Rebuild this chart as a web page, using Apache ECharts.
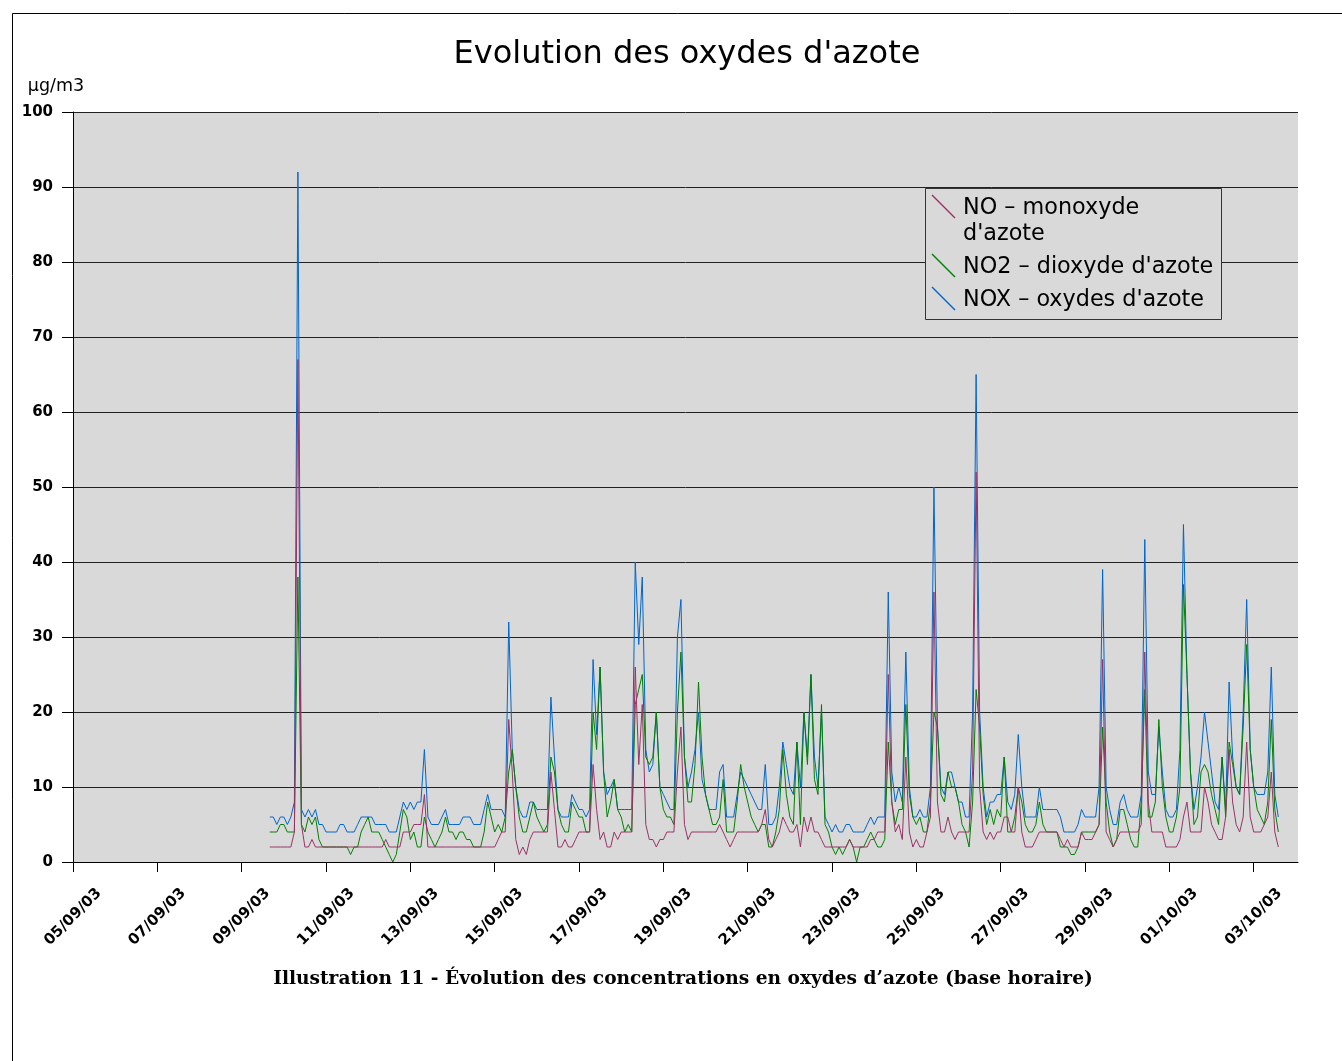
<!DOCTYPE html>
<html><head><meta charset="utf-8">
<script src="https://cdn.jsdelivr.net/npm/echarts@6/dist/echarts.min.js"></script>
<style>html,body{margin:0;padding:0;background:#fff}#c{width:1342px;height:1061px}</style>
</head><body><div id="c"></div>
<script>
// hours counted from 05/09/03 00:00, one value every 2 hours
const startHour = 112;
const stepHours = 2;
const axisMaxHour = 697.2;
const tickStepHours = 48;
const tickLabels = ['05/09/03','07/09/03','09/09/03','11/09/03','13/09/03','15/09/03','17/09/03','19/09/03','21/09/03','23/09/03','25/09/03','27/09/03','29/09/03','01/10/03','03/10/03'];
const seriesNames = ["NO – monoxyde d'azote", "NO2 – dioxyde d'azote", "NOX – oxydes d'azote"];
const seriesColors = ['#993366', '#008000', '#0066cc'];

const noValues = [
2,2,2,2,2,2,2,4,67,5, 2,2,3,2,2,2,2,2,2,2, 2,2,2,2,2,2,2,2,2,2, 2,2,2,3,2,2,2,2,4,4,
4,5,5,5,9,2,2,2,2,2, 2,2,2,2,2,2,2,2,2,2, 2,2,2,2,2,3,4,4,19,12, 3,1,2,1,3,4,4,4,4,4,
12,7,2,2,3,2,2,3,4,4, 4,4,13,7,3,4,2,2,4,3, 4,4,4,4,26,13,21,5,3,3, 2,3,3,4,4,4,12,18,5,3,
4,4,4,4,4,4,4,4,5,4, 3,2,3,4,4,4,4,4,4,4, 5,7,3,2,3,4,6,5,4,4, 5,2,6,4,6,4,4,3,2,2,
2,2,2,2,2,3,2,2,2,2, 2,3,3,4,4,4,25,8,4,5, 3,14,4,2,3,2,2,4,6,36, 8,4,4,6,4,3,4,4,4,4,
12,52,10,4,3,4,3,4,4,6, 6,4,4,10,4,2,2,2,3,4, 4,4,4,4,4,3,2,3,2,2, 2,4,3,3,3,4,5,27,4,3,
2,3,4,4,4,4,4,4,5,28, 8,4,4,4,4,2,2,2,2,3, 6,8,4,4,4,4,10,8,5,4, 3,3,6,15,8,5,4,6,16,6,
4,4,4,5,6,12,4,2];

const no2Values = [
4,4,4,5,5,4,4,4,38,5, 4,6,5,6,3,2,2,2,2,2, 2,2,2,1,2,2,4,5,6,4, 4,4,3,2,1,0,1,4,7,6,
3,4,2,2,6,4,3,2,3,4, 6,4,4,3,4,4,3,3,2,2, 2,4,8,6,4,5,4,6,12,15, 10,6,4,4,6,8,6,5,4,5,
14,12,7,5,4,4,8,7,6,6, 4,4,20,15,26,12,6,8,11,7, 6,4,5,4,21,23,25,14,13,14, 20,10,7,6,6,5,20,28,14,8,
8,13,24,14,9,7,5,5,6,11, 4,4,4,8,13,10,8,6,5,4, 5,5,2,2,4,7,15,9,6,5, 16,5,20,13,25,11,9,21,5,4,
2,1,2,1,2,3,2,0,2,2, 3,4,3,2,2,3,16,8,5,7, 7,21,9,6,5,6,4,4,8,20, 18,9,8,12,10,10,8,5,4,2,
8,23,18,9,5,7,5,7,6,14, 4,4,6,10,8,5,4,4,5,8, 5,4,4,4,4,2,2,2,1,1, 2,4,4,4,4,4,5,18,8,4,
2,3,7,7,5,3,2,2,8,23, 6,6,8,19,10,6,4,4,6,10, 37,25,12,5,6,12,13,12,9,7, 5,14,6,16,13,10,9,18,29,15,
10,7,6,5,8,19,7,4];

const noxValues = [
6,6,5,6,6,5,6,8,92,7, 6,7,6,7,5,5,4,4,4,4, 5,5,4,4,4,5,6,6,6,6, 5,5,5,5,4,4,4,6,8,7,
8,7,8,8,15,6,5,5,5,6, 7,5,5,5,5,6,6,6,5,5, 5,7,9,7,7,7,7,6,32,15, 10,7,6,6,8,8,7,7,7,7,
22,14,7,6,6,6,9,8,7,7, 6,7,27,17,26,12,9,10,11,7, 7,7,7,7,40,29,38,15,12,13, 20,10,9,8,7,7,30,35,14,10,
12,15,20,11,9,7,7,7,12,13, 6,6,6,9,12,11,10,9,8,7, 7,13,5,5,6,10,16,13,10,9, 16,10,20,14,25,14,10,20,6,5,
4,5,4,4,5,5,4,4,4,4, 5,6,5,6,6,6,36,12,8,10, 8,28,10,6,6,7,6,6,10,50, 18,10,9,12,12,10,8,8,6,6,
20,65,20,10,6,8,8,9,9,14, 8,7,9,17,10,6,6,6,6,10, 7,7,7,7,7,6,4,4,4,4, 5,7,6,6,6,6,10,39,10,7,
5,5,8,9,7,6,6,6,9,43, 12,9,9,18,12,7,6,6,7,15, 45,25,12,7,10,14,20,16,12,8, 7,14,7,24,14,10,9,20,35,15,
10,9,9,9,12,26,9,6];

const toPoints = arr => arr.map((v, i) => [startHour + i * stepHours, v]);
const tickValues = tickLabels.map((_, i) => i * tickStepHours);

const chart = echarts.init(document.getElementById('c'), null, {renderer: 'canvas'});
const FONT = '"DejaVu Sans", Verdana, sans-serif';

chart.setOption({
  animation: false,
  backgroundColor: '#ffffff',
  grid: {left: 73, top: 112, right: 44, bottom: 199, show: true, backgroundColor: '#d9d9d9', borderWidth: 0, containLabel: false, outerBoundsMode: 'none'},
  xAxis: {
    type: 'value', min: 0, max: axisMaxHour,
    axisLine: {show: true, lineStyle: {color: '#000', width: 1}},
    axisTick: {show: true, length: 10, customValues: tickValues, lineStyle: {color: '#000'}},
    axisLabel: {
      customValues: tickValues,
      formatter: v => tickLabels[Math.round(v / tickStepHours)] || '',
      rotate: 45, align: 'center', verticalAlign: 'middle', margin: 55,
      fontSize: 15, fontWeight: 'bold', color: '#000', fontFamily: FONT
    },
    splitLine: {show: false}
  },
  yAxis: {
    type: 'value', min: 0, max: 100, interval: 10,
    axisLine: {show: true, lineStyle: {color: '#000', width: 1}},
    axisTick: {show: true, length: 11, lineStyle: {color: '#000'}},
    axisLabel: {fontSize: 15, fontWeight: 'bold', color: '#000', margin: 20, fontFamily: FONT},
    splitLine: {show: true, lineStyle: {color: '#222', width: 1}}
  },
  series: [
    {name: seriesNames[2], type: 'line', data: toPoints(noxValues), showSymbol: false, symbol: 'none', lineStyle: {color: seriesColors[2], width: 1}, itemStyle: {color: seriesColors[2]}},
    {name: seriesNames[1], type: 'line', data: toPoints(no2Values), showSymbol: false, symbol: 'none', lineStyle: {color: seriesColors[1], width: 1}, itemStyle: {color: seriesColors[1]}},
    {name: seriesNames[0], type: 'line', data: toPoints(noValues), showSymbol: false, symbol: 'none', lineStyle: {color: seriesColors[0], width: 1}, itemStyle: {color: seriesColors[0]}}
  ],
  graphic: [
    {type: 'polyline', shape: {points: [[12.5, 1061], [12.5, 13.5], [1342, 13.5]]}, style: {stroke: '#000', lineWidth: 1, fill: null}, silent: true},
    {type: 'text', x: 687, y: 55, style: {text: "Evolution des oxydes d'azote", fontSize: 32, fontFamily: FONT, fill: '#000', align: 'center', verticalAlign: 'middle'}},
    {type: 'text', x: 56, y: 86, style: {text: 'µg/m3', fontSize: 17.5, fontFamily: FONT, fill: '#000', align: 'center', verticalAlign: 'middle'}},
    {type: 'text', x: 683, y: 979, style: {text: 'Illustration 11 - Évolution des concentrations en oxydes d’azote (base horaire)', fontSize: 18.6, fontWeight: 'bold', fontFamily: '"DejaVu Serif", serif', fill: '#000', align: 'center', verticalAlign: 'middle'}},
    {type: 'rect', shape: {x: 925.5, y: 188.5, width: 296, height: 131}, style: {fill: '#d9d9d9', stroke: '#333', lineWidth: 1}, z: 10},
    {type: 'line', shape: {x1: 932, y1: 195, x2: 955, y2: 218}, style: {stroke: seriesColors[0], lineWidth: 1.4}, z: 11},
    {type: 'line', shape: {x1: 932, y1: 254, x2: 955, y2: 277}, style: {stroke: seriesColors[1], lineWidth: 1.4}, z: 11},
    {type: 'line', shape: {x1: 932, y1: 287, x2: 955, y2: 310}, style: {stroke: seriesColors[2], lineWidth: 1.4}, z: 11},
    {type: 'text', x: 963, y: 208, style: {text: 'NO – monoxyde', fontSize: 22.3, fontFamily: FONT, fill: '#000', align: 'left', verticalAlign: 'middle'}, z: 11},
    {type: 'text', x: 963, y: 234, style: {text: "d'azote", fontSize: 22.3, fontFamily: FONT, fill: '#000', align: 'left', verticalAlign: 'middle'}, z: 11},
    {type: 'text', x: 963, y: 267, style: {text: seriesNames[1], fontSize: 22.3, fontFamily: FONT, fill: '#000', align: 'left', verticalAlign: 'middle'}, z: 11},
    {type: 'text', x: 963, y: 300, style: {text: seriesNames[2], fontSize: 22.3, fontFamily: FONT, fill: '#000', align: 'left', verticalAlign: 'middle'}, z: 11}
  ]
});
</script></body></html>
